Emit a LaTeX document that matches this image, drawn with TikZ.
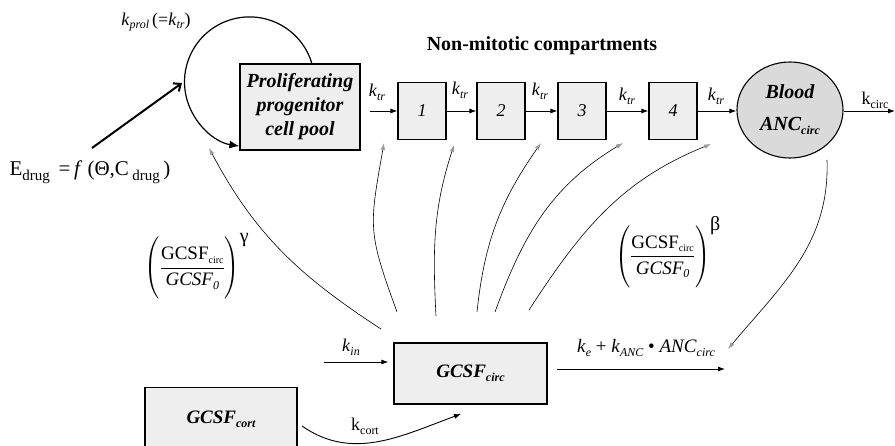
\RequirePackage{fix-cm}
\documentclass[tikz,border=0pt]{standalone}
\usepackage{amsmath}
\usepackage{fontspec}
\setmainfont{Liberation Serif}
\usetikzlibrary{arrows.meta,shapes.geometric}
\definecolor{boxgray}{HTML}{EEEEEE}
\definecolor{ellgray}{HTML}{DADADA}
\definecolor{tipgray}{HTML}{9A9A9A}
\newcommand\fsz[1]{\fontsize{#1}{#1}\selectfont}
\newcommand\sbi[1]{\raisebox{-0.45ex}{\fsz{12}\itshape #1}}
\newcommand\sbr[1]{\raisebox{-0.45ex}{\fsz{12}\upshape #1}}
\begin{document}
\begin{tikzpicture}[x=1pt,y=1pt,
  box/.style={draw,line width=1.1pt,fill=boxgray,inner sep=0pt},
  tx/.style={inner sep=0pt,font=\fsz{18}},
  fracl/.style={inner sep=0pt,font=\fontsize{19}{21}\selectfont},
  conn/.style={line width=0.9pt,-{Latex[length=7pt,width=5pt]}},
  fbk/.style={line width=0.6pt,-{Latex[length=7pt,width=4.5pt,color=tipgray]}}]
\useasboundingbox (0,0) rectangle (895,-446);
\clip (0,0) rectangle (895,-446);

% nodes
\node[box,minimum width=120,minimum height=86,align=center,
      font=\fontsize{20}{24}\selectfont\bfseries\itshape] (prolif) at (300,-107)
      {Proliferating\\progenitor\\cell pool};
\foreach \n/\x in {1/422,2/501,3/582,4/673}
  \node[box,minimum width=48,minimum height=57,font=\fsz{18}\itshape] (b\n) at (\x,-111) {\n};
\node[ellipse,draw,line width=1.1pt,fill=ellgray,minimum width=106,minimum height=96,
      inner sep=0pt,align=center,font=\fontsize{20}{24}\selectfont\bfseries\itshape]
      (blood) at (790,-110) {Blood\\[8pt]ANC\sbi{circ}};
\node[box,minimum width=153,minimum height=61,font=\fsz{19}\bfseries\itshape]
      (gcirc) at (470.5,-373.5) {GCSF\sbi{circ}};
\node[box,minimum width=152,minimum height=64,anchor=north,font=\fsz{19}\bfseries\itshape]
      (gcort) at (221,-387) {GCSF\sbi{cort}};

% labels
\node[font=\fsz{20}\bfseries,inner sep=0pt] (title) at (542,-46) {Non-mitotic compartments};
\node[tx] (kprol) at (156,-22) {\textit{k}\sbi{prol}\,(=\textit{k}\sbi{tr})};
\node[tx,font=\fsz{21}] (edrug) at (90,-172)
  {E\raisebox{-0.5ex}{\fsz{15}drug}\ \,=\,\textit{f}\ (Θ,C\,\raisebox{-0.5ex}{\fsz{15}drug}\,)};
\node[tx] (l1) at (377,-92) {\textit{k}\sbi{tr}};
\node[tx] (l2) at (460,-90) {\textit{k}\sbi{tr}};
\node[tx] (l3) at (540,-91) {\textit{k}\sbi{tr}};
\node[tx] (l4) at (627,-96) {\textit{k}\sbi{tr}};
\node[tx] (l5) at (716,-96) {\textit{k}\sbi{tr}};
\node[tx] (kcl) at (875,-100) {k\sbr{circ}};
\node[fracl] (gam) at (197,-266)
  {$\Biggl(\dfrac{\mbox{GCSF\raisebox{-0.4ex}{\fsz{10}circ}}}{\mbox{\itshape GCSF\raisebox{-0.4ex}{\fsz{12}0}}}\Biggr)^{\mbox{\fsz{20}γ}}$};
\node[fracl] (bet) at (668,-252)
  {$\Biggl(\dfrac{\mbox{GCSF\raisebox{-0.4ex}{\fsz{10}circ}}}{\mbox{\itshape GCSF\raisebox{-0.4ex}{\fsz{12}0}}}\Biggr)^{\mbox{\fsz{20}β}}$};
\node[tx,font=\fsz{19}] (kel) at (646,-348) {\textit{k}\sbi{e} + \textit{k}\sbi{ANC} • \textit{ANC}\sbi{circ}};
\node[tx] (kinl) at (351,-347) {\textit{k}\sbi{in}};
\node[tx] (kcort) at (365,-426) {k\sbr{cort}};

% coordinates
\coordinate (ls) at (312,-64);
\coordinate (es) at (92,-148);
\coordinate (ee) at (182,-83);
\coordinate (kc) at (895,-111);
\coordinate (kis) at (324,-362);
\coordinate (oute) at (725,-369);
\coordinate (cs) at (302,-426);
\coordinate (ce) at (461,-414);
\coordinate (s1) at (381,-329); \coordinate (t1) at (209,-148);
\coordinate (s2) at (397,-312); \coordinate (t2) at (384,-143);
\coordinate (s3) at (436,-316); \coordinate (t3) at (454,-145);
\coordinate (s4) at (477,-312); \coordinate (t4) at (541,-143);
\coordinate (s5) at (495,-312); \coordinate (t5) at (623,-143);
\coordinate (s6) at (529,-310); \coordinate (t6) at (711,-144);
\coordinate (s7) at (827,-160); \coordinate (t7) at (728,-349);

% main flow
\draw[conn,shorten <=9pt] (prolif.east |- b1.west) -- (b1.west);
\draw[conn] (b1) -- (b2);
\draw[conn] (b2) -- (b3);
\draw[conn] (b3) -- (b4);
\draw[conn] (b4.east) -- (b4.east -| blood.west);
\draw[conn] (blood.east |- kc) -- (kc);

% proliferation loop and drug effect
\draw[line width=1.2pt,-{Latex[length=10pt,width=8pt]}]
  (ls) arc[start angle=16,end angle=261,radius=65];
\draw[line width=2pt,-{Straight Barb[length=6pt,width=10pt]}] (es) -- (ee);

% GCSF flows
\draw[conn,shorten >=5pt] (kis) -- (kis -| gcirc.west);
\draw[conn,shorten <=9pt] (gcirc.east |- oute) -- (oute);
\draw[conn] (cs) to[out=-35,in=200] (ce);

% feedback
\draw[fbk] (s1) to[out=147,in=-62] (t1);
\draw[fbk] (s2) to[out=110,in=-100,looseness=1.3] (t2);
\draw[fbk] (s3) to[out=93,in=-108] (t3);
\draw[fbk] (s4) to[out=84,in=-125] (t4);
\draw[fbk] (s5) to[out=70,in=-149] (t5);
\draw[fbk] (s6) to[out=57,in=-158] (t6);
\draw[fbk] (s7) to[out=-88,in=50] (t7);
\end{tikzpicture}
\end{document}
